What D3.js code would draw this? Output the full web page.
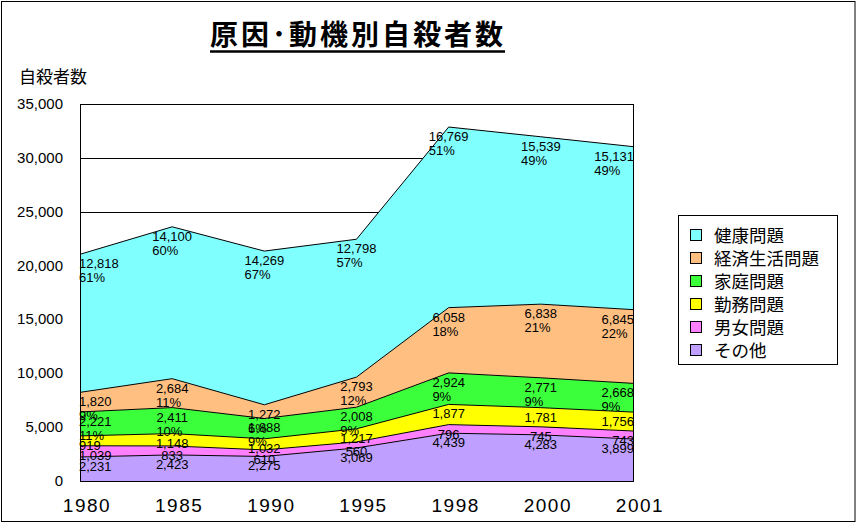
<!DOCTYPE html>
<html lang="ja">
<head>
<meta charset="UTF-8">
<title>原因・動機別自殺者数</title>
<script src="https://d3js.org/d3.v7.min.js"></script>
<style>
  body { margin: 0; background: #fff; }
  svg text { fill: #000; }
  .jp { font-family: "Noto Sans CJK JP", sans-serif; }
  .num { font-family: "Liberation Sans", Arial, sans-serif; }
</style>
</head>
<body>
<svg id="chart" width="857" height="524"></svg>
<script>
// data
const years = ["1980", "1985", "1990", "1995", "1998", "2000", "2001"];
const seriesNames = ["その他", "男女問題", "勤務問題", "家庭問題", "経済生活問題", "健康問題"];
const sonota  = [2231, 2423, 2275, 3069, 4439, 4283, 3899];
const danjo   = [1039, 833, 610, 560, 796, 745, 743];
const kinmu   = [919, 1148, 1032, 1217, 1877, 1781, 1756];
const katei   = [2221, 2411, 1888, 2008, 2924, 2771, 2668];
const keizai  = [1820, 2684, 1272, 2793, 6058, 6838, 6845];
const kenkou  = [12818, 14100, 14269, 12798, 16769, 15539, 15131];
const yTicks  = [0, 5000, 10000, 15000, 20000, 25000, 30000, 35000];
// series whose labels also show the share
const pctSeries = ["家庭問題", "経済生活問題", "健康問題"];

const colors = {
  "その他": "#bf9fff",
  "男女問題": "#ff80ff",
  "勤務問題": "#ffff00",
  "家庭問題": "#3cff3c",
  "経済生活問題": "#ffbf80",
  "健康問題": "#80ffff"
};

const values = [sonota, danjo, kinmu, katei, keizai, kenkou];
const table = years.map((yr, i) => {
  const row = { year: yr };
  seriesNames.forEach((s, k) => row[s] = values[k][i]);
  row.total = d3.sum(values, v => v[i]);
  return row;
});

const svg = d3.select("#chart");
const plot = { left: 80, right: 633, top: 104, bottom: 481 };

// outer frame
svg.append("rect")
  .attr("x", 1.5).attr("y", 1.5).attr("width", 853.5).attr("height", 520)
  .attr("fill", "#fff").attr("stroke", "#000");

const x = d3.scalePoint().domain(years).range([plot.left, plot.right]);
const y = d3.scaleLinear().domain([0, 35000]).range([plot.bottom, plot.top]);

// title
const title = svg.append("text")
  .attr("class", "jp")
  .attr("x", 358).attr("y", 45)
  .attr("text-anchor", "middle")
  .attr("font-size", 28).attr("font-weight", "bold")
  .attr("letter-spacing", 3)
  .text("原因･動機別自殺者数");
svg.append("line")
  .attr("x1", 210).attr("x2", 505).attr("y1", 51.5).attr("y2", 51.5)
  .attr("stroke", "#000").attr("stroke-width", 2.5);

// y axis title
svg.append("text").attr("class", "jp")
  .attr("x", 19).attr("y", 83)
  .attr("font-size", 17)
  .text("自殺者数");

// gridlines
svg.append("g").selectAll("line")
  .data(yTicks.filter(t => t > 0))
  .join("line")
  .attr("x1", plot.left).attr("x2", plot.right)
  .attr("y1", d => Math.round(y(d)) + 0.5).attr("y2", d => Math.round(y(d)) + 0.5)
  .attr("stroke", "#000");

// y tick labels
svg.append("g").selectAll("text")
  .data(yTicks)
  .join("text")
  .attr("class", "num")
  .attr("x", 63).attr("y", d => y(d) + 5)
  .attr("text-anchor", "end")
  .attr("font-size", 15)
  .text(d => d3.format(",")(d));

// x tick labels
svg.append("g").selectAll("text")
  .data(years)
  .join("text")
  .attr("class", "num")
  .attr("x", d => x(d) + 7).attr("y", 512)
  .attr("text-anchor", "middle")
  .attr("font-size", 19).attr("letter-spacing", 1.5)
  .text(d => d);

// stacked areas
const stack = d3.stack().keys(seriesNames);
const layers = stack(table);

const area = d3.area()
  .x(d => x(d.data.year))
  .y0(d => y(d[0]))
  .y1(d => y(d[1]));
const topLine = d3.line()
  .x(d => x(d.data.year))
  .y(d => y(d[1]));

svg.append("g").selectAll("path")
  .data(layers)
  .join("path")
  .attr("fill", d => colors[d.key])
  .attr("d", area);

svg.append("g").selectAll("path")
  .data(layers)
  .join("path")
  .attr("fill", "none")
  .attr("stroke", "#000")
  .attr("stroke-width", 1)
  .attr("d", topLine);

// plot frame
svg.append("rect")
  .attr("x", plot.left + 0.5).attr("y", plot.top + 0.5)
  .attr("width", plot.right - plot.left).attr("height", plot.bottom - plot.top)
  .attr("fill", "none").attr("stroke", "#000");

// data labels
const lab = svg.append("g").attr("class", "num").attr("font-size", 13);
layers.forEach(layer => {
  layer.forEach(d => {
    const v = d.data[layer.key];
    const cx = x(d.data.year);
    const ty = y(d[1]);
    const t = lab.append("text").attr("y", ty + 14).text(d3.format(",")(v));
    const w = t.node().getComputedTextLength();
    const sx = Math.max(plot.left - 1, Math.min(cx - w / 2, plot.right + 1 - w));
    t.attr("x", sx);
    if (pctSeries.includes(layer.key)) {
      lab.append("text")
        .attr("x", sx).attr("y", ty + 28)
        .text(Math.round(v / d.data.total * 100) + "%");
    }
  });
});

// legend
const legend = svg.append("g");
legend.append("rect")
  .attr("x", 678.5).attr("y", 215.5).attr("width", 159).attr("height", 149)
  .attr("fill", "#fff").attr("stroke", "#000");
const legendItems = seriesNames.slice().reverse();
const li = legend.selectAll("g.item")
  .data(legendItems)
  .join("g")
  .attr("class", "item")
  .attr("transform", (d, i) => `translate(0, ${235 + i * 23})`);
li.append("rect")
  .attr("x", 690.5).attr("y", -5.5).attr("width", 11).attr("height", 11)
  .attr("fill", d => colors[d]).attr("stroke", "#000");
li.append("text")
  .attr("class", "jp")
  .attr("x", 714).attr("y", 6.5)
  .attr("font-size", 17.5)
  .text(d => d);
</script>
</body>
</html>
